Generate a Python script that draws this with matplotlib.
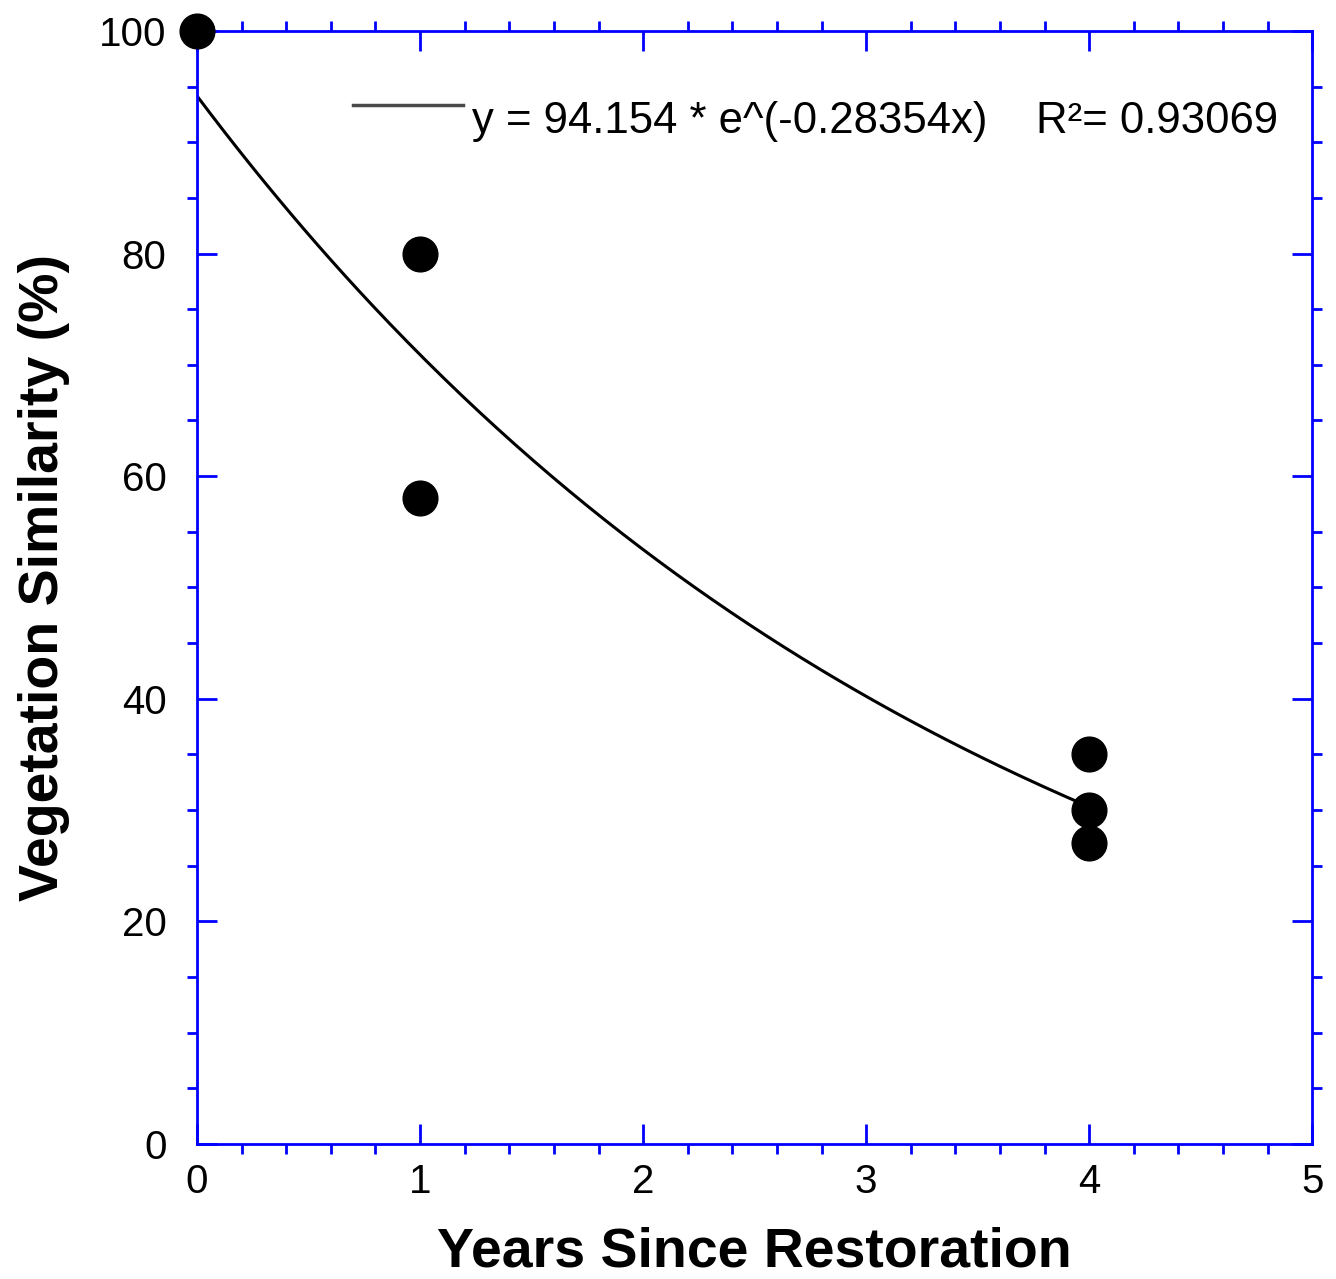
import numpy as np
import matplotlib.pyplot as plt
from matplotlib.ticker import MultipleLocator

plt.rcParams['font.family'] = ['Liberation Sans', 'DejaVu Sans']

# observed similarity vs. years since restoration
years = [0, 1, 1, 4, 4, 4]
similarity = [100, 80, 58, 35, 30, 27]

# exponential fit parameters
fit_a = 94.154
fit_b = -0.28354
fit_r2 = 0.93069

blue = '#0000ff'

fig = plt.figure(figsize=(13.36, 12.79), dpi=100)
ax = fig.add_axes([0.1475, 0.1056, 0.8347, 0.8702])

xfit = np.linspace(0, 4, 200)
yfit = fit_a * np.exp(fit_b * xfit)
ax.plot(xfit, yfit, color='black', lw=2.2)
ax.plot(years, similarity, 'o', color='black', markersize=25, clip_on=False, zorder=5)

# fit legend: short line sample + equation text
ax.plot([0.140, 0.2386], [0.9335, 0.9335], color='#4a4a4a', lw=2.5,
        transform=ax.transAxes)
ax.text(0.2466, 0.9084, f"y = {fit_a} * e^({fit_b}x)    R\u00b2= {fit_r2}",
        transform=ax.transAxes, fontsize=31.5, ha='left', va='baseline')

ax.set_xlim(0, 5)
ax.set_ylim(0, 100)
ax.xaxis.set_major_locator(MultipleLocator(1))
ax.xaxis.set_minor_locator(MultipleLocator(0.2))
ax.yaxis.set_major_locator(MultipleLocator(20))
ax.yaxis.set_minor_locator(MultipleLocator(5))

for s in ax.spines.values():
    s.set_color(blue)
    s.set_linewidth(2)

ax.tick_params(which='major', direction='in', length=14.4, width=2, color=blue,
               top=True, right=True, labelsize=29, labelcolor='black')
ax.tick_params(which='minor', direction='out', length=7.5, width=2, color=blue,
               top=True, right=True)
ax.tick_params(axis='y', which='major', pad=22)
ax.tick_params(axis='x', which='major', pad=14)

ax.set_xlabel("Years Since Restoration", fontsize=40, fontweight='bold', labelpad=18)
ax.set_ylabel("Vegetation Similarity (%)", fontsize=40, fontweight='bold')
ax.yaxis.set_label_coords(-0.114, 0.509)

fig.savefig('out.png', dpi=100)
